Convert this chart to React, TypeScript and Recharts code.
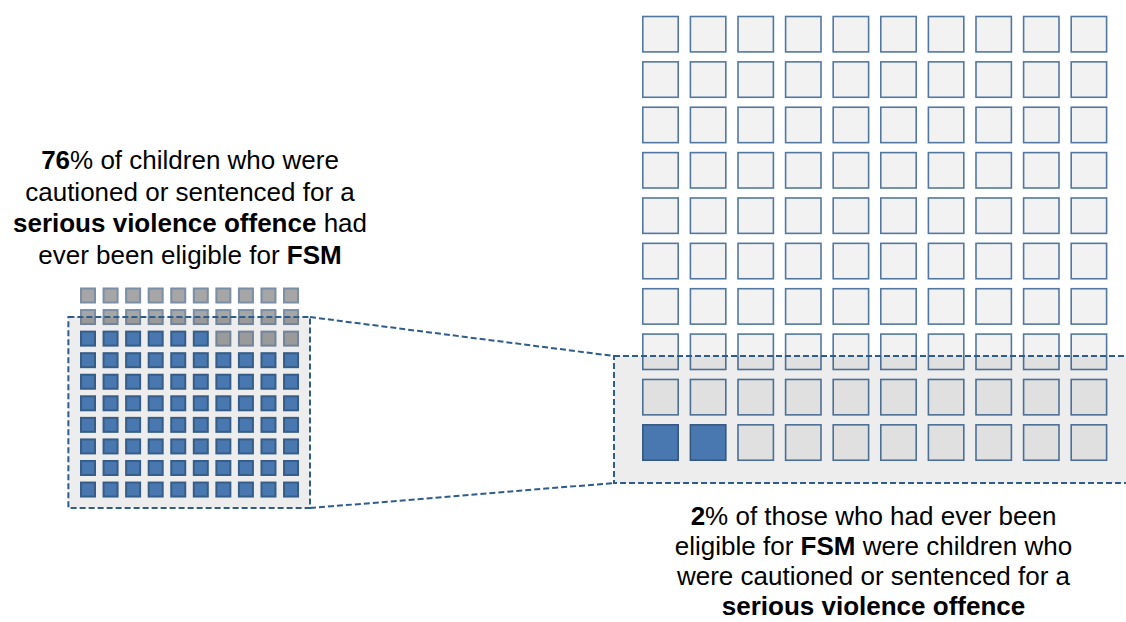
import React from "react";
import { ScatterChart, Scatter, XAxis, YAxis, ReferenceArea, ReferenceLine } from "recharts";

const W = 1126;
const H = 622;

// ---- data ----
const GRID_COLS = 10;
const GRID_ROWS = 10;
const leftHighlighted = 76; // % of children cautioned/sentenced for a serious violence offence ever eligible for FSM
const rightHighlighted = 2; // % of those ever eligible for FSM who were cautioned/sentenced for serious violence

const leftText = [
  [{ t: "76", b: true }, { t: "% of children who were" }],
  [{ t: "cautioned or sentenced for a" }],
  [{ t: "serious violence offence", b: true }, { t: " had" }],
  [{ t: "ever been eligible for " }, { t: "FSM", b: true }],
];
const rightText = [
  [{ t: "2", b: true }, { t: "% of those who had ever been" }],
  [{ t: "eligible for " }, { t: "FSM", b: true }, { t: " were children who" }],
  [{ t: "were cautioned or sentenced for a" }],
  [{ t: "serious violence offence", b: true }],
];

// ---- layout (pixel geometry of the two waffle grids) ----
const LEFT = { x0: 88, dx: 22.56, y0: 295.5, dy: 21.56, size: 16, sw: 2 };
const RIGHT = { x0: 660.5, dx: 47.6, y0: 34.2, dy: 45.37, size: 37, sw: 1.6 };
// zoom boxes in grid units
const LEFT_BOX = { x1: -0.87, x2: 9.84, y1: 1.0, y2: 9.86 };
const RIGHT_BOX = { x1: -0.977, x2: 10.2, y1: 7.093, y2: 9.892 };

type Grid = typeof LEFT;
const xDomain = (g: Grid) => [-g.x0 / g.dx, (W - g.x0) / g.dx];
const yDomain = (g: Grid) => [-g.y0 / g.dy, (H - g.y0) / g.dy];
const px = (g: Grid, u: number) => g.x0 + u * g.dx;
const py = (g: Grid, v: number) => g.y0 + v * g.dy;

function buildCells(highlighted: number) {
  const cells: { col: number; row: number; on: boolean }[] = [];
  for (let i = 0; i < GRID_COLS * GRID_ROWS; i++) {
    const rowFromBottom = Math.floor(i / GRID_COLS);
    cells.push({ col: i % GRID_COLS, row: GRID_ROWS - 1 - rowFromBottom, on: i < highlighted });
  }
  return cells;
}
const leftCells = buildCells(leftHighlighted);
const rightCells = buildCells(rightHighlighted);

const makeShape = (g: Grid, onFill: string, onStroke: string, offFill: string, offStroke: string) => (props: any) => {
  const { cx, cy, payload } = props;
  if (cx == null || cy == null) return <g />;
  const s = g.size - g.sw;
  return (
    <rect
      x={cx - s / 2}
      y={cy - s / 2}
      width={s}
      height={s}
      fill={payload.on ? onFill : offFill}
      stroke={payload.on ? onStroke : offStroke}
      strokeWidth={g.sw}
    />
  );
};

const DASH = "#2e5d8c";
const FONT = 26;

const TextBlock = ({ lines, cx, baseline0, pitch }: { lines: any[]; cx: number; baseline0: number; pitch: number }) => (
  <>
    {lines.map((segs: any[], i: number) => (
      <div
        key={i}
        style={{
          position: "absolute",
          left: cx - 300,
          width: 600,
          top: baseline0 + i * pitch - 21,
          height: 24,
          textAlign: "center",
          fontFamily: "'Liberation Sans', Arial, sans-serif",
          fontSize: FONT,
          lineHeight: "24px",
          color: "#000",
          whiteSpace: "nowrap",
        }}
      >
        {segs.map((s, j) => (s.b ? <b key={j}>{s.t}</b> : <span key={j}>{s.t}</span>))}
      </div>
    ))}
  </>
);

export default function App() {
  const topA = { x: px(LEFT, LEFT_BOX.x2), y: py(LEFT, LEFT_BOX.y1) };
  const topB = { x: px(RIGHT, RIGHT_BOX.x1), y: py(RIGHT, RIGHT_BOX.y1) };
  const botA = { x: px(LEFT, LEFT_BOX.x2), y: py(LEFT, LEFT_BOX.y2) };
  const botB = { x: px(RIGHT, RIGHT_BOX.x1), y: py(RIGHT, RIGHT_BOX.y2) };
  return (
    <div style={{ position: "absolute", left: 0, top: 0, width: W, height: H, background: "#fff" }}>
      <ScatterChart width={W} height={H} margin={{ top: 0, right: 0, bottom: 0, left: 0 }}>
        <XAxis xAxisId="L" dataKey="col" type="number" domain={xDomain(LEFT)} allowDataOverflow hide />
        <YAxis yAxisId="L" dataKey="row" type="number" domain={yDomain(LEFT)} allowDataOverflow reversed hide />
        <XAxis xAxisId="R" dataKey="col" type="number" domain={xDomain(RIGHT)} allowDataOverflow hide />
        <YAxis yAxisId="R" dataKey="row" type="number" domain={yDomain(RIGHT)} allowDataOverflow reversed hide />
        <XAxis xAxisId="P" dataKey="x" type="number" domain={[0, W]} allowDataOverflow hide />
        <YAxis yAxisId="P" dataKey="y" type="number" domain={[0, H]} allowDataOverflow reversed hide />
        <Scatter
          xAxisId="L"
          yAxisId="L"
          data={leftCells}
          isAnimationActive={false}
          shape={makeShape(LEFT, "#4f81bd", "#3b6592", "#a6a6a6", "#7a8ea6")}
        />
        <Scatter
          xAxisId="R"
          yAxisId="R"
          data={rightCells}
          isAnimationActive={false}
          shape={makeShape(RIGHT, "#4f81bd", "#3a5f8b", "#f2f2f2", "#5278a2")}
        />
        <ReferenceArea
          xAxisId="L"
          yAxisId="L"
          x1={LEFT_BOX.x1}
          x2={LEFT_BOX.x2}
          y1={LEFT_BOX.y1}
          y2={LEFT_BOX.y2}
          fill="#000"
          fillOpacity={0.07}
          stroke={DASH}
          strokeWidth={2}
          strokeDasharray="6 3"
          ifOverflow="visible"
          zIndex={800}
        />
        <ReferenceArea
          xAxisId="R"
          yAxisId="R"
          x1={RIGHT_BOX.x1}
          x2={RIGHT_BOX.x2}
          y1={RIGHT_BOX.y1}
          y2={RIGHT_BOX.y2}
          fill="#000"
          fillOpacity={0.07}
          stroke={DASH}
          strokeWidth={2}
          strokeDasharray="6 3"
          ifOverflow="visible"
          zIndex={800}
        />
        <ReferenceLine
          xAxisId="P"
          yAxisId="P"
          segment={[topA, topB]}
          stroke={DASH}
          strokeWidth={2}
          strokeDasharray="6 3"
          ifOverflow="visible"
          zIndex={800}
        />
        <ReferenceLine
          xAxisId="P"
          yAxisId="P"
          segment={[botA, botB]}
          stroke={DASH}
          strokeWidth={2}
          strokeDasharray="6 3"
          ifOverflow="visible"
          zIndex={800}
        />
      </ScatterChart>
      <TextBlock lines={leftText} cx={190} baseline0={169} pitch={31.5} />
      <TextBlock lines={rightText} cx={873.5} baseline0={525} pitch={30} />
    </div>
  );
}
